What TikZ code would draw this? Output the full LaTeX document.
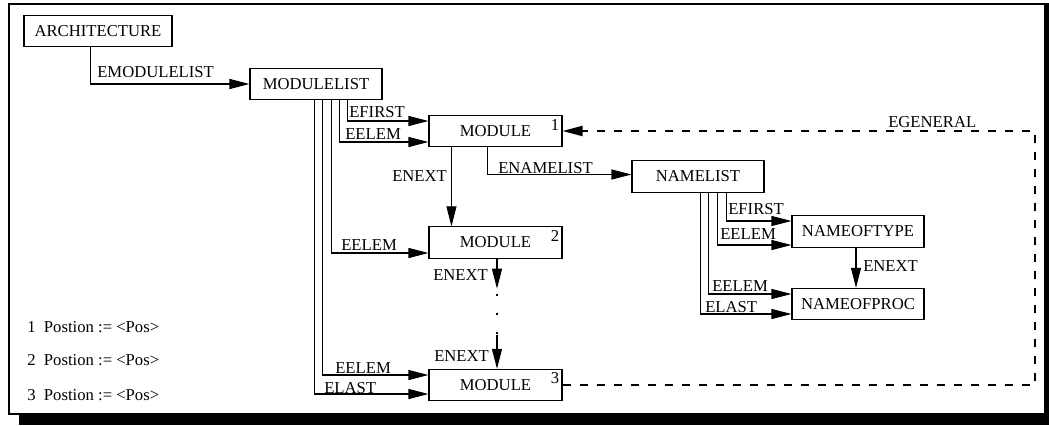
\documentclass[tikz,border=0pt]{standalone}
\usepackage{fontspec}
\setmainfont{Liberation Serif}
\usetikzlibrary{arrows.meta,calc}
\begin{document}
\begin{tikzpicture}[x=0.75pt,y=-0.75pt,
  every node/.style={font=\fontsize{12.5pt}{15pt}\selectfont},
  box/.style={draw,line width=0.8pt,inner sep=0pt,minimum width=99pt,minimum height=23.5pt},
  lbl/.style={anchor=base west,inner sep=0pt},
  num/.style={anchor=base east,inner sep=0pt},
  arr/.style={line width=0.8pt,-{Triangle[length=15pt,width=7.5pt]}},
  ln/.style={line width=0.8pt},
  gen/.style={line width=1.5pt,dash pattern=on 6pt off 6.75pt,-{Triangle[length=15pt,width=7.5pt]}}]
\useasboundingbox (0,0) rectangle (1049,425);
% frame with shadow
\draw[line width=1.5pt] (9,4) rectangle (1045,414);
\fill (19,414) rectangle (1049,425);
\fill (1044,3) rectangle (1049,425);

% boxes
\node[box,minimum width=111pt] (arch) at (98,31) {ARCHITECTURE};
\node[box] (ml) at (316,84) {MODULELIST};
\node[box,minimum width=99.75pt] (m1) at (495.5,131) {MODULE};
\node[box,minimum width=99.75pt] (m2) at (495.5,242.5) {MODULE};
\node[box,minimum width=99.75pt] (m3) at (495.5,385) {MODULE};
\node[box] (nl) at (698,176.5) {NAMELIST};
\node[box] (nt) at (858,231.5) {NAMEOFTYPE};
\node[box] (np) at (858,304) {NAMEOFPROC};

\node[num] (n1) at ($(m1.north east)+(-3,16)$) {1};
\node[num] (n2) at ($(m2.north east)+(-3,15)$) {2};
\node[num] (n3) at ($(m3.north east)+(-3,15)$) {3};

% connectors
\draw[arr] ($(arch.south west)+(67,0)$) |- (ml.west);
\draw[arr] ($(ml.south west)+(98,0)$) |- ($(m1.west)+(0,-10)$);
\draw[arr] ($(ml.south west)+(90,0)$) |- ($(m1.west)+(0,11)$);
\draw[arr] ($(ml.south west)+(82,0)$) |- ($(m2.west)+(0,10.5)$);
\draw[arr] ($(ml.south west)+(73,0)$) |- ($(m3.west)+(0,-10)$);
\draw[arr] ($(ml.south west)+(65,0)$) |- ($(m3.west)+(0,9)$);

\draw[arr] ($(m1.south west)+(23,0)$) -- ($(m2.north west)+(23,0)$);
\coordinate (d1) at ($(m2.south)+(1.5,30)$);
\coordinate (d2) at ($(m3.north)+(1.5,-34)$);
\draw[arr] ($(m2.south)+(1.5,0)$) -- (d1);
\draw[line width=1.2pt,dash pattern=on 1.5pt off 12.75pt,dash phase=10.5pt] (d1) -- (d2);
\draw[arr] (d2) -- ($(m3.north)+(1.5,0)$);

\draw[arr] ($(m1.south west)+(59,0)$) |- ($(nl.west)+(0,-2)$);
\draw[arr] ($(nl.south west)+(95,0)$) |- ($(nt.west)+(0,-10.5)$);
\draw[arr] ($(nl.south west)+(86,0)$) |- ($(nt.west)+(0,13.5)$);
\draw[arr] ($(nl.south west)+(77,0)$) |- ($(np.west)+(0,-10)$);
\draw[arr] ($(nl.south west)+(69,0)$) |- ($(np.west)+(0,10)$);
\draw[arr] ($(nt.south)+(-2,0)$) -- ($(np.north)+(-2,0)$);

\coordinate (gr) at (1035,0);
\draw[gen] (m3.east) -- (m3.east -| gr) -- (gr |- m1.east) -- (m1.east);

% labels
\node[lbl] (t1) at (97,77) {EMODULELIST};
\node[lbl] (t2) at (349,117) {EFIRST};
\node[lbl] (t3) at (345,139) {EELEM};
\node[lbl] (t4) at (341,250) {EELEM};
\node[lbl] (t5) at (335,373) {EELEM};
\node[lbl] (t6) at (324,393) {ELAST};
\node[lbl] (t7) at (392,181) {ENEXT};
\node[lbl] (t8) at (433,280) {ENEXT};
\node[lbl] (t9) at (434,361) {ENEXT};
\node[lbl] (t10) at (498,173) {ENAMELIST};
\node[lbl] (t11) at (728,214) {EFIRST};
\node[lbl] (t12) at (720,239) {EELEM};
\node[lbl] (t13) at (712,291) {EELEM};
\node[lbl] (t14) at (705,312) {ELAST};
\node[lbl] (t15) at (863,271) {ENEXT};
\node[lbl] (t16) at (888,127) {EGENERAL};

% legend
\node[lbl] (g1) at (27,332) {1\enspace Postion := <Pos>};
\node[lbl] (g2) at (27,365) {2\enspace Postion := <Pos>};
\node[lbl] (g3) at (27,400) {3\enspace Postion := <Pos>};
\end{tikzpicture}
\end{document}
